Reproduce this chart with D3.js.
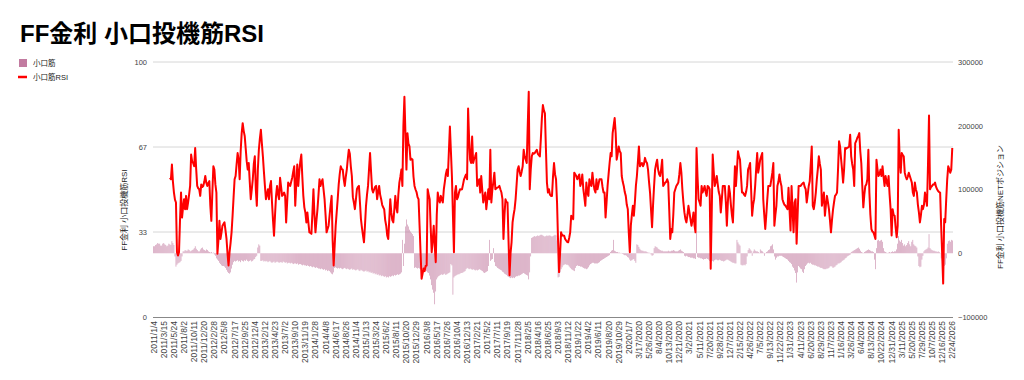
<!DOCTYPE html>
<html><head><meta charset="utf-8">
<script src="https://cdn.jsdelivr.net/npm/d3@7"></script>
<style>
body{margin:0;background:#fff}
svg{display:block}
text{font-family:"Liberation Sans",Arial,"Noto Sans CJK JP",sans-serif}
</style>
</head><body>
<svg id="c" width="1024" height="380"></svg>
<script>
const chartTitle = "FF金利 小口投機筋RSI";
const seriesNames = ["小口筋", "小口筋RSI"];
const leftAxisTitle = "FF金利 小口投機筋RSI";
const rightAxisTitle = "FF金利 小口投機筋NETポジション";
const leftTickValues = [0, 100/3, 200/3, 100];
const leftTickLabels = ["0", "33", "67", "100"];
const rightTickValues = [-100000, 0, 100000, 200000, 300000];
const tickLabels = ["2011/1/4","2011/3/15","2011/5/24","2011/8/2","2011/10/11","2011/12/20","2012/2/28","2012/5/8","2012/7/17","2012/9/25","2012/12/4","2013/2/12","2013/4/23","2013/7/2","2013/9/10","2013/11/19","2014/1/28","2014/4/8","2014/6/17","2014/8/26","2014/11/4","2015/1/13","2015/3/24","2015/6/2","2015/8/11","2015/10/20","2015/12/29","2016/3/8","2016/5/17","2016/7/26","2016/10/4","2016/12/13","2017/2/21","2017/5/2","2017/7/11","2017/9/19","2017/11/28","2018/2/5","2018/4/16","2018/6/25","2018/9/3","2018/11/12","2019/1/22","2019/4/2","2019/6/11","2019/8/20","2019/10/29","2020/1/7","3/17/2020","5/26/2020","8/4/2020","10/13/2020","12/21/2020","3/2/2021","5/11/2021","7/20/2021","9/28/2021","12/7/2021","2/15/2022","4/26/2022","7/5/2022","9/13/2022","11/22/2022","1/31/2023","4/11/2023","6/20/2023","8/29/2023","11/7/2023","1/16/2024","3/26/2024","6/4/2024","8/13/2024","10/22/2024","12/31/2024","3/11/2025","5/20/2025","7/29/2025","10/7/2025","12/16/2025","2/24/2026"];

const rsi = [
null,null,null,null,null,null,null,null,null,null,
null,null,null,null,null,null,54.6,54,59.8,53,
48.8,46,44.9,25.4,24.1,25.4,38,48.8,39,43,
46.2,42.3,47.5,42.3,45,48,51.4,63.7,61,60.4,
59.1,66.3,58,51.4,50.5,50.1,47.5,52,51,51.4,
53,55.3,52.7,51.4,52.5,53.3,43.6,37.7,48.8,59.1,
57.8,52,48.8,24.8,30,37.7,30.6,33,35.8,36.5,
37.1,34,30.6,25,20.2,25.4,29,33.2,39.7,47,
54,55.3,60,64.3,61.7,54,65,72,76,73,
71,66,61,57.8,60.4,53,46.2,50,54,60,
63,50,43.6,57.8,65.6,70,73.4,68,63,57,
51.4,46.2,48,50.1,46.2,51.4,53.3,45,38,31.9,
40,47.5,51.4,48,46.2,54.6,51,47.5,48,48.8,
47.5,37.1,45,52.7,52,51.4,53,54.6,57,59.1,
43.6,52,59.8,51.4,57,61,63.7,55,47.5,43,
41,37.1,41,37,33.2,33,32.6,41,50.1,40,
33.2,38,42.3,48,54,51.4,53,54,50,46.2,
40,33.2,34.5,35.8,40,44,47.5,30,20.2,28,
35.8,41,46.2,52,56,59.1,58,57.8,54,51.4,
55,57.8,62,65.6,64,59,55.3,47,44.9,42.3,
46,50.1,51,51.4,45,38.4,35,32,29.3,36,
43.6,48,51.4,58,64.3,57,50.1,48.8,50,51,
51.4,46.2,49,51.4,48,46.2,44,43,42.3,38,
35.8,32,30.6,38,46.2,41,38,37.1,42,47.5,
43,41,48,52.7,55,57.8,51.4,75,86.4,72.1,
57.8,72.1,68,66.9,61.7,62,61.7,55,51.4,50,
49,47,46.2,35.8,25,15,17,19,18,20,
20.2,50.1,48,46.2,35,25.4,30,35.8,28,21.5,
40,48.8,46,44.9,47.5,46,44.9,50.1,53,56,
57.8,55.3,65,74.7,65,55.3,40,25.4,48.8,51.4,
46.2,47,48.8,50.1,50,50.1,52,54,55,55.9,
54,81.8,70,61.7,60.4,70.8,60.4,62,63,64.3,
51.4,53,54,48.8,55.3,50,44.9,47,48.8,42.3,
46,50.1,46.2,65.6,44.9,50,53,56.6,50.1,50.5,
50.7,51,51.4,50,48.8,46.2,30.6,40,46.2,45,
44.9,30,16.4,25,29.3,37.1,40,42.3,46.2,52,
57.8,59.1,57,55.3,57,59.1,65.6,63,61.7,60.4,
75,88.3,50.1,58,63,64.3,64,64.3,65,65.6,
64,63.5,63,70,78,83.1,81,79.9,66,52.7,
48.8,50.1,48,47.5,47.5,55,60.4,56,54,44.9,
30,17.6,25,33.2,31.9,32,31.9,30.6,30,29.5,
29.3,31,33.2,39.7,39,38.4,56.6,56,55.3,54,
55,55.9,51.4,52.7,55.9,50.1,47,43.6,52.7,48.8,
47.5,54,52,51.4,56.6,52.7,50,48.8,54,50.1,
52,54,54,54,51,48.8,48.8,39,45,51.4,
56,60.4,64.3,63,72.1,75,78,72.1,61.7,64,
66.9,65,64.3,55.3,53,51.4,49,47.5,44,42.3,
33,25.4,35.8,40,43.6,39.7,45,51.4,55.3,61,
66.9,59.1,60,60.4,59.1,60,62.4,61,60.4,57.8,
53,48.8,42,35.2,44,51.4,57.8,60,61.7,57.8,
56,55.3,58,61.7,51.4,52,52.7,53,54,52.7,
42,30.6,34.5,33.2,40,48.8,50.1,51.4,52,52.7,
56,60.4,56.6,50,45,41,38.4,37.1,40,43.6,
41,38.4,35.8,38,41,36,33.2,66.3,55,46.2,
45,43.6,51.4,48.8,50,51.4,49,47.5,51.4,51,
50.1,18.9,40,63.7,57,51.4,53,55.3,52,49,
47.5,41,46,51.4,51.4,51.4,45,35.8,45,51.4,
48.8,44,40,37.1,48,59.1,51.4,58,65,63,
61.7,55,48.8,48.8,48,47.5,49,51.4,57.8,59,
60.4,50,39.7,44,46.2,51.4,58,64.3,56.6,59,
61.7,63,64.3,46.2,40,34.5,40,46.2,51.4,51.4,
51.4,54,56.6,60.4,35.8,40,43.6,51.4,53,55.9,
53,51.4,46.2,44.9,44,43.6,43,42.3,50.7,42,
33.9,51.4,42,33.2,44.9,46.2,28.7,40,51.4,51.4,
51.4,52,52.4,52.7,51,50.1,44.9,48,51.4,53.3,
60,66.9,43.6,42.3,45,48.8,54,58,63,60,
57.8,43.6,46,48.8,39.7,44,47.5,45,42.3,38,
33.2,38,42,44.9,47.5,48,48.8,58,68.9,66.9,
62,57.8,52.7,58,66.3,66,66.3,66.5,66.9,71.5,
63,60,57.8,51.4,68.2,69,70.2,71,72.1,65,
60.4,51.4,43,48,51.4,52,54,65.6,48.8,40,
34.5,33.5,33.2,32,30.6,61.7,58,55.3,56,57.8,
55.3,59.1,55,51.4,55.3,53,51.4,55.3,48,42.3,
32,42.3,40,39.7,35,31.3,35.8,73.4,62,56.6,
64.3,63.5,63,56.6,55,54,55,56.6,55.3,54,
52.7,48.8,47.5,52.7,50,48.8,44,41,37.1,40,
43.6,42.3,44,48.8,46.2,43.6,60,79,50.1,51,
51.4,52,52,52.7,51,50.1,49.4,49,48.8,35.8,
25,13.1,38.4,37.1,46,54,59.1,58,56.6,57.8,66.3
];

const net = [
11000,11000,13000,14000,16000,15000,15000,12000,12000,15000,
16000,14000,13000,11000,12000,15000,14000,13000,19000,16000,
13000,-5000,-21000,-18000,-16000,-15000,-14000,-12000,-5000,3000,
3000,5000,4000,4000,6000,5000,3000,4000,5000,6000,
8000,11000,7000,5000,3000,3000,6000,8000,9000,6000,
5000,4000,6000,5000,3000,2000,1000,2000,500,1000,
-2000,-4000,-8000,-10000,-12000,-15000,-17000,-19000,-20000,-20000,
-21000,-23000,-26000,-29000,-31000,-32000,-30000,-24000,-18000,-14000,
-12000,-13000,-12000,-11000,-13000,-12000,-14000,-11000,-12000,-13000,
-11000,-12000,-10000,-12000,-13000,-12000,-11000,-13000,-12000,-10000,
-9000,-6000,-4000,9000,14000,12000,-12000,-12000,-11000,-13000,
-12000,-13000,-12000,-14000,-13000,-12000,-14000,-15000,-14000,-13000,
-15000,-14000,-13000,-14000,-15000,-14000,-14000,-15000,-13000,-14000,
-15000,-14000,-16000,-15000,-15000,-16000,-15000,-16000,-17000,-16000,
-16000,-17000,-16000,-18000,-17000,-17000,-18000,-19000,-18000,-19000,
-19000,-20000,-19000,-20000,-21000,-20000,-21000,-22000,-21000,-22000,
-23000,-22000,-23000,-24000,-24000,-25000,-24000,-25000,-26000,-25000,
-27000,-26000,-28000,-27000,-28000,-30000,-32000,-33000,-30000,-23000,
-22000,-23000,-24000,-23000,-24000,-23000,-24000,-25000,-24000,-23000,
-24000,-25000,-24000,-25000,-26000,-25000,-24000,-26000,-25000,-26000,
-27000,-26000,-25000,-27000,-28000,-26000,-27000,-28000,-29000,-28000,
-27000,-29000,-28000,-30000,-29000,-31000,-30000,-32000,-31000,-33000,
-32000,-34000,-33000,-35000,-34000,-36000,-35000,-36000,-37000,-36000,
-38000,-37000,-38000,-36000,-37000,-36000,-35000,-36000,-34000,-35000,
-34000,-33000,-34000,-33000,-32000,-30000,21000,-20000,15000,42000,
53000,45000,42000,37000,34000,32000,30000,27000,-23000,-22000,
-23000,-24000,-23000,-24000,-25000,-24000,-25000,-26000,-25000,-27000,
-28000,-30000,-31000,-35000,-41000,-50000,-57000,-62000,-80000,-60000,
-41000,-38000,-36000,-35000,-34000,-33000,-34000,-33000,-32000,-34000,
-33000,-32000,-31000,-30000,-17000,-19000,-65000,-38000,-36000,-35000,
-34000,-33000,-33000,-32000,-31000,-31000,-30000,-29000,-28000,-25000,
-23000,-24000,-25000,-24000,-25000,-26000,-25000,-26000,-27000,-26000,
-27000,-26000,-25000,-26000,-27000,-28000,-30000,-31000,-30000,-29000,
-28000,-20000,21000,-12000,-10000,-9000,8000,-14000,-20000,-21000,
-23000,-24000,-25000,-26000,-27000,-29000,-30000,-32000,-33000,-34000,
-36000,-37000,-38000,-39000,-38000,-39000,-38000,-39000,-37000,-36000,
-36000,-35000,-35000,-34000,-33000,-32000,-31000,-32000,-33000,-34000,
-35000,-41000,-30000,-5000,24000,25000,26000,27000,26000,27000,
28000,27000,28000,29000,29000,28000,27000,26000,27000,28000,
27000,28000,28000,27000,26000,27000,28000,29000,28000,20000,
-38000,-37000,-30000,-25000,-22000,-19000,-18000,-17000,-18000,-18000,
-19000,-21000,-23000,-25000,-26000,-27000,-28000,-23000,-20000,-19000,
-20000,-20000,-21000,-21000,-22000,-23000,-24000,-24000,-25000,-24000,
-22000,-19000,-17000,-16000,-15000,-15000,-16000,-16000,-16000,-16000,
-15000,-14000,-12000,-11000,-10000,-9000,-8000,-7000,-6000,-5000,
-4000,-3000,2000,4000,5000,21000,4000,3000,2000,2000,
1000,1000,500,500,-1000,-2000,-3000,-3000,-4000,-6000,
-7000,-10000,-12000,-11000,-10000,-9000,-12000,-15000,14000,13000,
10000,7000,5000,4000,4000,3000,3000,3000,2000,1000,
1000,500,-2000,-4000,-3000,8000,11000,10000,9000,7000,
6000,5000,4000,4000,3000,3000,3000,3000,3000,4000,
3000,3000,4000,4000,5000,4000,3000,3000,3000,4000,
5000,6000,4000,3000,2000,-4000,-5000,-4000,-5000,-6000,
-6000,-7000,-7000,-7000,-8000,-8000,-9000,32000,-6000,-7000,
-7000,-8000,-8000,-9000,-10000,-9000,-9000,-8000,-9000,-10000,
-12000,-25000,-13000,-12000,-13000,-11000,-10000,-10000,-11000,-11000,
-10000,-11000,-12000,-12000,-13000,-12000,-11000,-10000,-10000,-11000,
-12000,-13000,-14000,-15000,-15000,-16000,-16000,21000,17000,14000,
12000,-18000,-19000,-19000,-18000,-19000,-17000,-5000,5000,8000,
6000,4000,-4000,3000,6000,4000,3000,3000,2000,500,
6000,4000,3000,1000,-4000,500,2000,3000,5000,6000,
11000,12000,14000,6000,-5000,-10000,-7000,-5000,-5000,-4000,
-4000,-4000,-5000,-6000,-7000,-8000,-9000,-10000,-12000,-14000,
-15000,-17000,-21000,-23000,-27000,-31000,-46000,-30000,-20000,-22000,
-24000,-25000,-29000,-31000,-25000,-20000,-18000,-16000,-15000,-16000,
-15000,-17000,-18000,-18000,-19000,-19000,-20000,-21000,-21000,-22000,
-23000,-23000,-24000,-25000,-25000,-25000,-24000,-24000,-23000,-21000,
-20000,-21000,-23000,-22000,-21000,-19000,-18000,-16000,-16000,-15000,
-14000,-12000,-11000,-10000,-8000,-7000,-5000,-4000,-3000,-2000,
2000,3000,4000,5000,6000,7000,8000,9000,7000,4000,
2000,1000,500,2000,3000,4000,5000,6000,5000,4000,
3000,3000,2000,-10000,-25000,8000,20000,21000,19000,20000,
21000,18000,8000,3000,2000,1000,500,1000,2000,1000,
2000,3000,2000,3000,3000,6000,15000,27000,20000,18000,
21000,16000,12000,14000,11000,13000,16000,19000,14000,11000,
18000,21000,14000,12000,11000,9000,-5000,-20000,-22000,-21000,
-10000,-4000,3000,5000,6000,7000,9000,30000,8000,6000,
5000,4000,4000,3000,3000,2000,3000,2000,500,-8000,
-12000,-16000,-20000,-18000,-8000,15000,19000,20000,18000,21000,20000
];

const colors = {bar: "#c27ba0", line: "#ff0000", grid: "#d6d6d6", axis: "#888", text: "#444"};
const M = {l: 153, r: 953, t: 62, b: 317};

const svg = d3.select("#c");
const n = Math.max(rsi.length, net.length);
const idx = d3.range(n);
const x = d3.scaleBand().domain(idx).range([M.l, M.r]).padding(0.45);
const cx = i => x(i) + x.bandwidth() / 2;
const yL = d3.scaleLinear().domain([0, 100]).range([M.b, M.t]);
const yR = d3.scaleLinear().domain([-100000, 300000]).range([M.b, M.t]);

// title
svg.append("text").attr("x", 20).attr("y", 42)
  .attr("font-size", 24).attr("font-weight", "bold").attr("fill", "#000")
  .text(chartTitle);

// legend
svg.append("rect").attr("x", 19).attr("y", 59).attr("width", 8).attr("height", 8).attr("fill", colors.bar);
svg.append("text").attr("x", 33).attr("y", 63).attr("dy", "0.35em").attr("font-size", 7.5).attr("fill", "#222").text(seriesNames[0]);
svg.append("line").attr("x1", 18).attr("x2", 27).attr("y1", 77).attr("y2", 77).attr("stroke", colors.line).attr("stroke-width", 2.5);
svg.append("text").attr("x", 33).attr("y", 77).attr("dy", "0.35em").attr("font-size", 7.5).attr("fill", "#222").text(seriesNames[1]);

// gridlines (left axis)
svg.append("g").selectAll("line").data(leftTickValues.filter(v => v > 0)).join("line")
  .attr("x1", M.l).attr("x2", M.r).attr("y1", d => yL(d)).attr("y2", d => yL(d))
  .attr("stroke", colors.grid).attr("stroke-width", 1);

// bars
svg.append("g").selectAll("rect").data(net).join("rect")
  .attr("x", (d, i) => x(i)).attr("width", x.bandwidth())
  .attr("y", d => Math.min(yR(d), yR(0)))
  .attr("height", d => Math.abs(yR(d) - yR(0)))
  .attr("fill", colors.bar);

// baseline
svg.append("line").attr("x1", M.l).attr("x2", M.r).attr("y1", M.b + 0.5).attr("y2", M.b + 0.5)
  .attr("stroke", colors.axis).attr("stroke-width", 1);

// RSI line
const line = d3.line().defined(d => d.v != null).x(d => cx(d.i)).y(d => yL(d.v));
svg.append("path").datum(rsi.map((v, i) => ({i, v})))
  .attr("d", line).attr("fill", "none").attr("stroke", colors.line)
  .attr("stroke-width", 2).attr("stroke-linejoin", "round");

// axes
const gL = svg.append("g").attr("transform", `translate(${M.l},0)`)
  .call(d3.axisLeft(yL).tickValues(leftTickValues).tickFormat((d, i) => leftTickLabels[i]).tickSize(0).tickPadding(6));
const gR = svg.append("g").attr("transform", `translate(${M.r},0)`)
  .call(d3.axisRight(yR).tickValues(rightTickValues).tickFormat(d3.format("d")).tickSize(0).tickPadding(5));
const gX = svg.append("g").attr("transform", `translate(0,${M.b})`)
  .call(d3.axisBottom(x).tickValues(idx.filter(i => i % 10 === 0)).tickFormat(i => tickLabels[i / 10]).tickSize(0));
[gL, gR, gX].forEach(g => {
  g.select(".domain").remove();
  g.selectAll("text").attr("fill", colors.text).attr("font-family", null);
});
gL.selectAll("text").attr("font-size", 7.5);
gR.selectAll("text").attr("font-size", 7.5);
gX.selectAll("text").attr("font-size", 8.5)
  .attr("transform", "rotate(-90)").attr("x", -4).attr("y", 0).attr("dy", "0.32em")
  .style("text-anchor", "end");

// axis titles
svg.append("text").attr("transform", "translate(124,210) rotate(-90)")
  .attr("text-anchor", "middle").attr("dy", "0.35em").attr("font-size", 8).attr("fill", "#222")
  .text(leftAxisTitle);
svg.append("text").attr("transform", "translate(1000,207) rotate(-90)")
  .attr("text-anchor", "middle").attr("dy", "0.35em").attr("font-size", 8).attr("fill", "#222")
  .text(rightAxisTitle);
</script>
</body></html>
